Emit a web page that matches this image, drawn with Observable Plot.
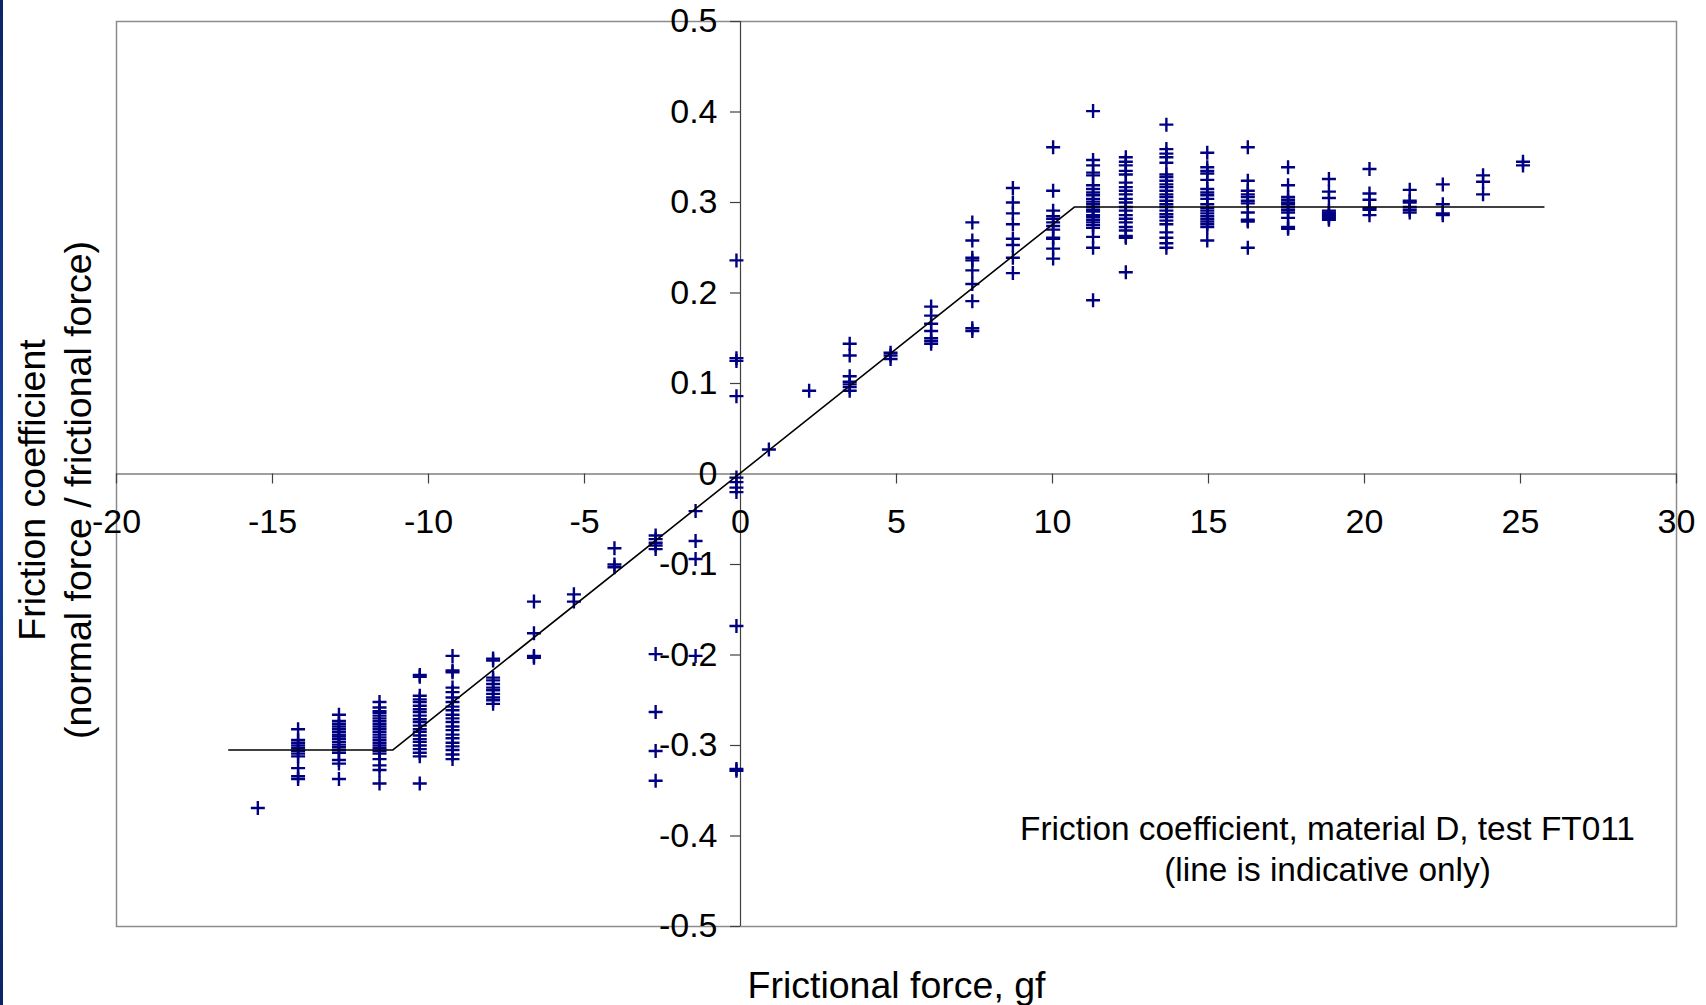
<!DOCTYPE html>
<html>
<head>
<meta charset="utf-8">
<script src="https://cdn.jsdelivr.net/npm/d3@7"></script>
<script src="https://cdn.jsdelivr.net/npm/@observablehq/plot@0.6"></script>
<style>
html, body { margin: 0; padding: 0; background: #fff; }
#wrap { position: relative; width: 1706px; height: 1005px; overflow: hidden; background: #fff; }
#strip { position: absolute; left: 0; top: 0; width: 3px; height: 1005px; background: linear-gradient(#0a2566, #1742a0 50%, #0a2566); }
#chart svg { display: block; }
</style>
</head>
<body>
<div id="wrap"><div id="strip"></div><div id="chart"></div></div>
<script>
// Frictional force levels (gf) at which readings were taken
const forceLevels = [-15.47, -14.18, -12.87, -11.57, -10.28, -9.23, -7.93, -6.62, -5.34, -4.04, -2.72, -1.44, -0.13,
  0.91, 2.2, 3.5, 4.81, 6.11, 7.43, 8.73, 10.02, 11.3, 12.35, 13.65, 14.96, 16.26, 17.55, 18.86, 20.16, 21.45, 22.51, 23.8, 25.08];

// Friction coefficient readings for each force level
const coefByLevel = [
  [-0.369],
  [-0.282, -0.294, -0.297, -0.300, -0.303, -0.306, -0.309, -0.312, -0.325, -0.334, -0.337],
  [-0.266, -0.273, -0.276, -0.279, -0.282, -0.285, -0.288, -0.290, -0.293, -0.296, -0.299, -0.302, -0.305, -0.308, -0.316, -0.320, -0.337],
  [-0.252, -0.258, -0.262, -0.264, -0.267, -0.270, -0.273, -0.276, -0.279, -0.282, -0.285, -0.288, -0.291, -0.294, -0.297, -0.300, -0.303, -0.306, -0.309, -0.315, -0.322, -0.327, -0.342],
  [-0.222, -0.224, -0.245, -0.249, -0.252, -0.256, -0.260, -0.263, -0.267, -0.271, -0.274, -0.278, -0.282, -0.285, -0.289, -0.293, -0.296, -0.300, -0.304, -0.308, -0.312, -0.342],
  [-0.201, -0.217, -0.219, -0.236, -0.241, -0.247, -0.252, -0.257, -0.261, -0.266, -0.270, -0.274, -0.279, -0.283, -0.288, -0.292, -0.297, -0.301, -0.305, -0.310, -0.315],
  [-0.204, -0.206, -0.225, -0.228, -0.232, -0.236, -0.239, -0.243, -0.247, -0.250, -0.254],
  [-0.141, -0.176, -0.201, -0.203],
  [-0.133, -0.141],
  [-0.082, -0.100, -0.103],
  [-0.068, -0.072, -0.076, -0.079, -0.083, -0.199, -0.263, -0.306, -0.339],
  [-0.041, -0.074, -0.094, -0.201],
  [0.236, 0.128, 0.125, 0.086, -0.004, -0.009, -0.015, -0.020, -0.168, -0.326, -0.328],
  [0.027],
  [0.092],
  [0.144, 0.131, 0.108, 0.102, 0.099, 0.096, 0.092],
  [0.134, 0.131, 0.127],
  [0.185, 0.175, 0.166, 0.158, 0.150, 0.147, 0.144],
  [0.278, 0.258, 0.239, 0.236, 0.225, 0.210, 0.191, 0.161, 0.158],
  [0.316, 0.300, 0.288, 0.276, 0.260, 0.253, 0.239, 0.222],
  [0.361, 0.313, 0.291, 0.285, 0.282, 0.278, 0.274, 0.270, 0.261, 0.260, 0.249, 0.238],
  [0.401, 0.347, 0.341, 0.333, 0.330, 0.319, 0.315, 0.311, 0.308, 0.304, 0.301, 0.298, 0.295, 0.292, 0.290, 0.286, 0.284, 0.281, 0.278, 0.275, 0.272, 0.262, 0.250, 0.192],
  [0.350, 0.345, 0.341, 0.335, 0.331, 0.322, 0.317, 0.313, 0.309, 0.304, 0.300, 0.295, 0.291, 0.286, 0.282, 0.278, 0.273, 0.269, 0.263, 0.261, 0.223],
  [0.386, 0.359, 0.354, 0.350, 0.344, 0.331, 0.328, 0.324, 0.320, 0.317, 0.313, 0.309, 0.306, 0.302, 0.298, 0.295, 0.291, 0.287, 0.284, 0.280, 0.276, 0.267, 0.261, 0.255, 0.250],
  [0.355, 0.339, 0.335, 0.332, 0.325, 0.315, 0.311, 0.308, 0.304, 0.298, 0.294, 0.291, 0.288, 0.285, 0.282, 0.279, 0.276, 0.273, 0.258],
  [0.361, 0.324, 0.313, 0.309, 0.306, 0.302, 0.299, 0.289, 0.281, 0.279, 0.250],
  [0.339, 0.319, 0.306, 0.303, 0.300, 0.298, 0.295, 0.292, 0.289, 0.283, 0.273, 0.271],
  [0.326, 0.312, 0.305, 0.291, 0.289, 0.287, 0.285, 0.283, 0.281],
  [0.337, 0.310, 0.303, 0.294, 0.292, 0.286],
  [0.314, 0.302, 0.300, 0.295, 0.292, 0.289],
  [0.320, 0.298, 0.288, 0.286],
  [0.330, 0.323, 0.309],
  [0.345, 0.341]
];

// Indicative line (vertices)
const fitForce = [-16.4, -11.15, 10.7, 25.75];
const fitCoef = [-0.305, -0.305, 0.295, 0.295];

// Tick values and labels
const xTickValues = [-20, -15, -10, -5, 0, 5, 10, 15, 20, 25, 30];
const xTickLabels = ["-20", "-15", "-10", "-5", "0", "5", "10", "15", "20", "25", "30"];
const yTickValues = [0.5, 0.4, 0.3, 0.2, 0.1, 0, -0.1, -0.2, -0.3, -0.4, -0.5];
const yTickLabels = ["0.5", "0.4", "0.3", "0.2", "0.1", "0", "-0.1", "-0.2", "-0.3", "-0.4", "-0.5"];

const xTitle = "Frictional force, gf";
const yTitle = "Friction coefficient\n(normal force / frictional force)";
const note = "Friction coefficient, material D, test FT011\n(line is indicative only)";

// Build tables
const points = forceLevels.flatMap((x, i) => coefByLevel[i].map(y => ({x, y})));
const fit = fitForce.map((x, i) => ({x, y: fitCoef[i]}));
const xTicks = xTickValues.map((v, i) => ({v, label: xTickLabels[i]}));
const yTicks = yTickValues.map((v, i) => ({v, label: yTickLabels[i]}));

const plusSymbol = {
  draw(context, size) {
    const r = Math.sqrt(size / Math.PI);
    context.moveTo(-r, 0); context.lineTo(r, 0);
    context.moveTo(0, -r); context.lineTo(0, r);
  }
};

const font = "'Liberation Sans', Arial, Helvetica, sans-serif";
const axisColor = "#404040";

const chart = Plot.plot({
  width: 1706,
  height: 1005,
  marginLeft: 116,
  marginRight: 30,
  marginTop: 21,
  marginBottom: 79,
  style: {fontFamily: font, background: "white", color: "black", overflow: "visible"},
  x: {domain: [-20, 30], axis: null},
  y: {domain: [-0.5, 0.5], axis: null},
  marks: [
    Plot.frame({stroke: "#8c8c8c", strokeWidth: 1.5}),
    Plot.ruleY([0], {stroke: axisColor, strokeWidth: 1.2}),
    Plot.ruleX([0], {stroke: axisColor, strokeWidth: 1.2}),
    Plot.ruleX(xTicks, {x: "v", y1: () => 0, y2: () => 0, insetBottom: -10, stroke: axisColor, strokeWidth: 1.2}),
    Plot.ruleY(yTicks, {y: "v", x1: () => 0, x2: () => 0, insetLeft: -10, stroke: axisColor, strokeWidth: 1.2}),
    Plot.text(xTicks, {x: "v", y: () => 0, text: "label", dy: 48, fontSize: 34, fill: "black"}),
    Plot.text(yTicks, {x: () => 0, y: "v", text: "label", textAnchor: "end", dx: -23, fontSize: 34, fill: "black"}),
    Plot.dot(points, {x: "x", y: "y", symbol: plusSymbol, r: 7, stroke: "#000080", strokeWidth: 2.4, fill: "none"}),
    Plot.line(fit, {x: "x", y: "y", stroke: "black", strokeWidth: 1.6}),
    Plot.text([xTitle], {frameAnchor: "bottom", text: d => d, dy: 59, lineAnchor: "middle", textAnchor: "middle", fontSize: 37.5, fill: "black"}),
    Plot.text([yTitle], {frameAnchor: "left", text: d => d, rotate: -90, dx: -63, dy: 16, lineAnchor: "middle", textAnchor: "middle", fontSize: 37.5, lineHeight: 1.23, fill: "black"}),
    Plot.text([note], {frameAnchor: "bottom-right", text: d => d, dx: -349, dy: -79, lineAnchor: "middle", textAnchor: "middle", fontSize: 33.4, lineHeight: 1.23, fill: "black"})
  ]
});
document.getElementById("chart").appendChild(chart);
</script>
</body>
</html>
